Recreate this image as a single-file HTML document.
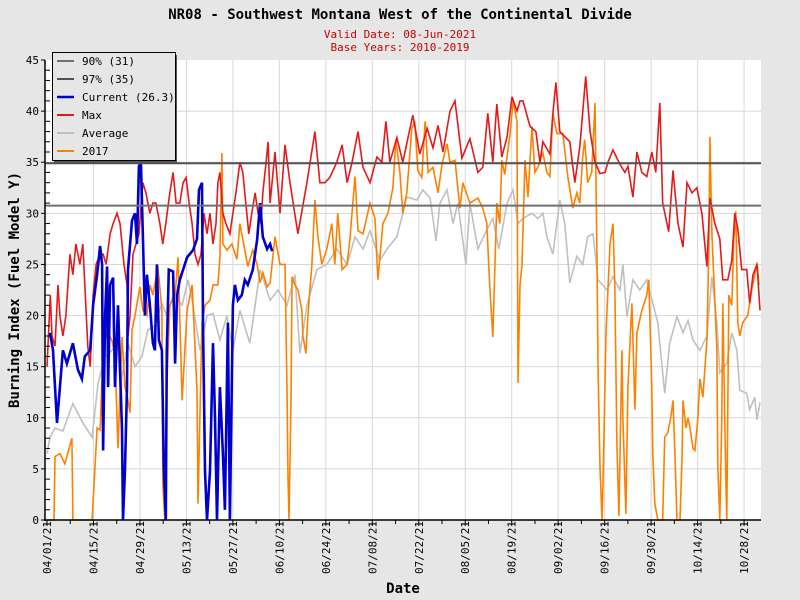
<!DOCTYPE html>
<html><head><meta charset="utf-8"><style>
body{margin:0;background:#e6e6e6;}
svg{display:block;font-family:"DejaVu Sans Mono","Liberation Mono",monospace;}
</style></head><body>
<svg id="chart" width="800" height="600" viewBox="0 0 800 600" xmlns="http://www.w3.org/2000/svg">
<rect x="0" y="0" width="800" height="600" fill="#e6e6e6"/>
<text x="400" y="19" text-anchor="middle" font-size="14" font-weight="bold" fill="#000">NR08 - Southwest Montana West of the Continental Divide</text>
<text x="400" y="38" text-anchor="middle" font-size="11" fill="#cc0000">Valid Date: 08-Jun-2021</text>
<text x="400" y="51" text-anchor="middle" font-size="11" fill="#cc0000">Base Years: 2010-2019</text>
<rect x="45" y="60" width="716" height="460" fill="#fff"/>
<g id="grid"></g>
<g id="series"></g>
<g id="axes"></g>
<text x="0" y="0" transform="translate(19,290) rotate(-90)" text-anchor="middle" font-size="14" font-weight="bold">Burning Index (Fuel Model Y)</text>
<text x="403" y="593" text-anchor="middle" font-size="14" font-weight="bold">Date</text>
<g id="legend"></g>
</svg>
<script>
const xTickLabels=["04/01/21","04/15/21","04/29/21","05/13/21","05/27/21","06/10/21","06/24/21","07/08/21","07/22/21","08/05/21","08/19/21","09/02/21","09/16/21","09/30/21","10/14/21","10/28/21"];
const yTicks=[0,5,10,15,20,25,30,35,40,45];
const pct90=30.75;
const pct97=34.9;
const maxDays=[0,1,1.5,2.4,3.3,3.9,4.8,5.7,6.9,7.8,8.7,9.9,10.8,11.4,12.3,13,13.9,14.8,16,16.9,17.8,19,19.9,21.1,22,23.2,24.1,24.4,25,25.9,26.8,27.7,28.9,29.8,31,31.9,32.8,34,34.9,35.8,37,38,38.9,40,41,41.9,42.8,43.7,44.6,45.5,46.4,47.3,48.2,49.1,50,50.9,51.5,52.1,53,53.9,55.1,56,56.9,58.1,59,59.9,60.8,61.7,62.7,63.6,64.5,65,66,66.6,67.2,68.7,70.2,71.7,73.2,75.6,78.3,80.7,82.2,83.7,85.2,87.3,88.9,90.4,91.9,93.7,95.2,97.3,99.4,100.9,102.1,103.3,105.4,107.2,110.2,112.3,114.5,116.3,117.8,119.3,121.4,122.9,125,127.4,129.8,131.3,132.8,134.3,135.5,137,138.6,140.1,141.6,142.5,143.4,145.5,147.3,148.5,149.4,151.5,152.4,153.3,154.5,156,157.5,159,160.5,162.3,163.6,165.1,166.6,168.1,169,170.5,172.6,174.1,175,176.5,177.7,179.2,180.7,182.2,183.4,184.6,185.5,187.3,188.6,190.1,191.6,192.8,194.3,195.8,197.3,198.8,199.7,201.2,202.7,203.6,205.1,206.3,207.2,208.1,209.3,210.8,211.7,212.7,213.9,214.8];
const maxVals=[15,22,18,17,23,20,18,20,26,24,27,25,27,23,17,15,22,25,26,26,25,28,29,30,29,25,23,18,20,26,27,28,33,32,30,31,31,29,27,29,32,34,31,31,33,33.5,31,29,26,25,26,30,28,30,27,29,33,34,30,29,28,30,32,35,34,31,28,30,32,30,29,32,35,37,31,36,30,36.7,33,28,33,38,33,33,33.5,35,36.7,33,35,38,34.5,33,35.5,35,39,35,37.4,35,39.6,35.8,38.3,36.4,38.6,36,40,41,35.4,37.3,34,34.5,39.8,35,40.7,35.5,37.5,41.4,40,41,41,38.5,38,35,37,35.8,39.8,42.8,38,37.5,37,33,36.5,43.4,38,35,33.9,34,35,36.2,34.8,34,34.6,31.6,36,34,33.6,36,34,40.8,31,28.2,34.2,29,26.7,33,32,32.5,30,24.8,31.5,29,27.5,23.5,23.5,25.4,30,28.5,24.5,24.5,21.2,24,25,20.5];
const avgDays=[0,0.9,2.4,4.8,7.8,10.8,13.6,15.4,17.5,19.6,21.4,22,24.4,26.5,28.6,30.4,32.5,34.6,36.1,38,40.7,42.5,44,46.1,48.2,50,52.1,54.2,56,58.1,61.1,64.2,67.2,69.6,72.3,74.7,76.2,78.3,81.3,84.3,87.3,90.4,92.8,95.2,97.3,100.3,102.4,105.4,108.4,111.4,113.2,115.4,117.2,118.4,120.5,122.3,123.8,126.2,127.4,129.8,131.9,134.3,136.1,138.6,140.4,141.9,143.4,146.1,147.9,149.4,150.6,152.4,154.5,156,157.5,159.6,161.4,162.9,164.5,166,168.7,170.5,172.6,173.5,174.7,176.5,178.6,180.7,182.5,184,186.1,187.6,189.8,191.6,193.1,194.6,196.7,198.8,200.3,201.8,202.7,204.8,206.3,207.8,208.7,210.8,211.7,213.2,213.9,214.8];
const avgVals=[6.5,8.1,9,8.7,11.4,9.5,8.1,13.4,16,16.6,17.3,13,17.3,15,16,18.6,19,21.2,20,22,21,23.5,21,16.6,20,20.2,17.6,20,16.6,20.5,17.3,24.5,21.5,22.5,21,24,16.3,21,24.5,25,26.5,25,27.7,26.5,28.3,25.4,26.5,27.7,31.6,31.3,32.3,31.5,27.3,31,32.3,29,31,25,31,26.5,28,29.5,26.5,31,32.3,29,29.5,30,29.5,30,27.7,26,31.3,29,23.2,25.8,25,27.7,28,23.5,22.5,23.8,22.5,25,19.9,23.5,22.5,23.5,21.2,19.3,12.4,17.3,19.9,18.3,19.5,17.6,16.6,18,23.8,19.3,14.4,15.3,18.3,16.6,12.7,12.4,10.8,12,9.8,11.5];
const y2017Days=[0,2.1,2.4,3.9,5.4,7.5,7.8,13.6,15.1,16,16.9,18.1,19.6,20.5,21.4,22.6,23.5,24.4,25,25.6,26.5,28,28.9,30.1,31,31.9,33.4,34.6,34.9,35.5,36.1,37,38.6,39.5,40.7,42.2,43.7,45.2,45.5,46.7,47.6,49.1,50,51.5,52.1,52.7,53,54.2,55.7,57.2,58.1,59.6,60.5,62,63.3,64.2,65,66.3,67.2,68.7,70.2,71.7,72.3,72.6,72.9,73.5,73.8,74.7,75.6,76.8,77.1,78,78.6,79.8,80.7,81.6,82.8,84.3,85.8,86.7,87.6,88.9,90.4,91.3,92.8,93.7,95.2,97.3,98.8,99.7,101.2,102.7,104.2,105.1,106.3,107.2,108.4,109.9,110.8,111.7,112.9,113.9,114.8,116.3,117.8,119,120.5,121.4,122.9,124.4,125.3,127.4,129.8,131.3,132.5,133.4,134.3,135.5,136.4,137,137.9,139.5,140.4,141.6,141.9,142.5,143.1,144,144.9,146.1,147,147.9,149.4,150.6,151.5,152.4,153.6,155.4,156.9,158.4,159.6,160.5,161.4,162,162.9,164.1,165.1,165.7,166,166.6,167.2,167.5,168.4,169.6,170.5,171.1,171.7,172.3,173.2,173.5,174.4,175,176.2,177.1,177.7,179.2,180.7,181.3,182.2,182.5,183.1,184,185.5,186.1,187,187.9,188.6,189.2,189.8,190.7,191.3,191.6,192.5,193.1,193.7,194.6,195.2,196.1,196.7,197.6,198.8,199.4,199.7,200.3,200.9,201.8,202.1,202.7,203.3,203.6,204.5,204.8,205.4,206.3,206.9,207.5,208.1,208.7,209.6,211.1,212.3,213.2,213.9,214.5];
const y2017Vals=[0,0,6.2,6.5,5.5,8,0,0,9,8.8,16.6,18.6,17.5,16,7,17.9,13,11.7,10.5,18.6,20,22.8,20.5,20,23,22,24.8,20.5,3.6,0,13,21,22,25.7,11.7,20.5,23,12.7,1.6,19.3,21,21.5,23,23,25.7,35.9,27,26.4,27,25.5,29,26.4,24.8,26.4,25,23.2,24.2,22.8,23.2,27.7,25,25,12.7,4.2,0,11.7,23.8,23,22.5,20.5,18,16.3,20,25,31.3,27.7,25,26.5,29,25,30,24.5,25,27.7,33.6,28.3,28,31,29.5,23.5,29,30,32.5,37.2,34,30,32,38.3,39,34.2,33.5,39,34,34.5,32,34.8,36.8,35,35.2,30.5,33,31,31.5,30.5,29,22.8,17.9,31,29,35.2,33.8,37.8,41,39,13.4,23,25,35.2,31.6,38.5,34,34.5,35.9,34,33.6,39.8,37.8,37.8,33.6,30.5,32,31,35.5,37.2,33,34,40.8,25.4,15,5.2,0,3.6,18.3,27,29,22.5,7.4,0.4,16.6,10,0.6,13,21.2,10.8,18.3,20.5,22,23.5,13,6.5,1.6,0,0,8.1,8.5,10,11.7,6.2,0,0,6,11.7,9,10,9,7,6.8,10,13.8,12,17.6,27,37.5,28,23.5,16.6,5.2,0,10,21.2,4.2,0,22,21,27.4,30.2,19.3,18,19.3,20,22.5,24,25.2,23];
const curDays=[0.9,1.8,3,3.9,4.8,6,6.9,7.8,9.3,10.5,11.4,13,13.9,15.1,16,16.6,16.9,17.5,18.1,18.4,19,19.9,20.5,21.4,22.6,22.9,23.5,24.1,24.4,25.6,26.5,27.1,27.7,28.3,28.9,29.5,30.1,31,31.9,32.5,33.1,33.7,34.6,35.2,35.8,36.1,36.7,38,38.6,39.2,40,42.2,44,45.2,45.8,46.7,47,47.6,48.2,49.1,50,50.6,51.2,52.1,53,53.6,54.5,55.1,56,56.6,57.5,58.7,59.6,60.5,62,63.3,64.2,65,66.3,67.2,67.8];
const curVals=[18.3,16.6,9.5,13,16.6,15.3,16.3,17.3,14.7,13.8,16,16.6,21,24,26.8,25,6.8,20,24.8,13,23,23.7,13,21,8.8,0,5,13,24.5,29.3,30,27,34.6,35,27.7,20,24,21,17.3,16.6,25,17.6,16.6,5.2,0,16.6,24.5,24.3,15.3,22,23.5,25.7,26.4,27.5,32.3,33,19.3,4.8,0,4.8,17.3,10,0,13,6.5,1,19.3,0,21,23,21.5,22,23.5,23,24.5,27.4,31,27.7,26.5,27,26.3];

const NS='http://www.w3.org/2000/svg';
const X0=47,X1=761,Y0=520,Y1=60,DMAX=215.1,VMAX=45;
function xs(d){return X0+(X1-X0)*d/DMAX;}
function ys(v){return Y0-(Y0-Y1)*v/VMAX;}
function mk(tag,attrs,parent){const e=document.createElementNS(NS,tag);for(const k in attrs)e.setAttribute(k,attrs[k]);parent.appendChild(e);return e;}
const grid=document.getElementById('grid'),axes=document.getElementById('axes'),series=document.getElementById('series'),legend=document.getElementById('legend');

yTicks.forEach((v)=>{
  if(v>0&&v<45){const l=mk('line',{x1:45,x2:X1,y1:ys(v),y2:ys(v),stroke:'#d8d8d8','stroke-width':1},grid);
  
  }
  const t=mk('text',{x:39,y:ys(v)+4,'text-anchor':'end','font-size':11},axes);
  t.textContent=v;
  
  
});
for(let v=0;v<=45;v++){
  const tk=mk('line',{x1:45,x2:v%5===0?41:50,y1:ys(v),y2:ys(v),stroke:'#000','stroke-width':1},axes);
  
  
}
xTickLabels.forEach((lab,i)=>{
  const d=i*14,x=xs(d);
  if(i>0){const g=mk('line',{x1:x,x2:x,y1:Y1,y2:Y0,stroke:'#d8d8d8','stroke-width':1},grid);
  
  }
  const t=mk('text',{x:0,y:0,transform:`translate(${x+4},574) rotate(-90)`,'font-size':11},axes);
  t.textContent=lab;
  
  
});
for(let d=0;d<=DMAX;d+=7){
  const tk=mk('line',{x1:xs(d),x2:xs(d),y1:Y0,y2:d%14===0?526:524,stroke:'#000','stroke-width':1},axes);
  
  
}
const ax1=mk('line',{x1:45,x2:45,y1:Y1,y2:Y0+1,stroke:'#000','stroke-width':1.5},axes);


const ax2=mk('line',{x1:45,x2:X1,y1:Y0,y2:Y0,stroke:'#000','stroke-width':1.5},axes);



function line(days,vals,color,w,name){
  const pts=days.map((d,i)=>xs(d).toFixed(1)+','+ys(vals[i]).toFixed(1)).join(' ');
  const p=mk('polyline',{points:pts,fill:'none',stroke:color,'stroke-width':w,'stroke-linejoin':'miter'},series);
  
  
}
line(avgDays,avgVals,'#c0c0c0',1.6,'average-line');
line(y2017Days,y2017Vals,'#ff8000',1.6,'line-2017');
line(maxDays,maxVals,'#e31a1c',1.6,'max-line');
line(curDays,curVals,'#0000cc',2.6,'current-line');
const h90=mk('line',{x1:45,x2:X1,y1:ys(pct90),y2:ys(pct90),stroke:'#707070','stroke-width':2},series);


const h97=mk('line',{x1:45,x2:X1,y1:ys(pct97),y2:ys(pct97),stroke:'#505050','stroke-width':2},series);



const sh=mk('rect',{x:54,y:55,width:123,height:108,fill:'#555'},legend);


const box=mk('rect',{x:52.5,y:52.5,width:123,height:108,fill:'#e6e6e6',stroke:'#000','stroke-width':1},legend);


const legLabels=['90% (31)','97% (35)','Current (26.3)','Max','Average','2017'];
const legColors=['#707070','#505050','#0000cc','#e31a1c','#c0c0c0','#ff8000'];
legLabels.forEach((lab,i)=>{
  const y=61+i*18;
  const l=mk('line',{x1:57,x2:74,y1:y,y2:y,stroke:legColors[i],'stroke-width':i===2?2.5:2},legend);
  
  
  const t=mk('text',{x:82,y:y+4,'font-size':11},legend);
  t.textContent=lab;
  
  
});
</script>
</body></html>
